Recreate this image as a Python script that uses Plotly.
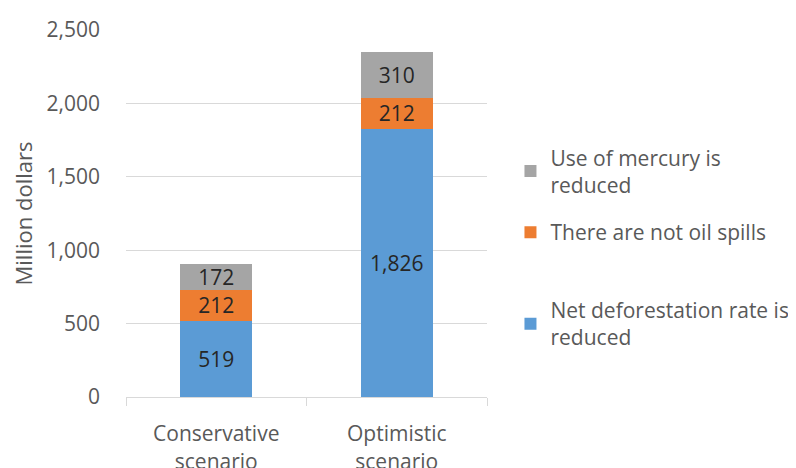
import plotly.graph_objects as go

# Dati
scenarios = ['Conservative<br>scenario', 'Optimistic<br>scenario']
deforestation = [519, 1826]
oil_spills = [212, 212]
mercury = [172, 310]

COLORS = {
    'blue': '#5B9BD5',
    'orange': '#ED7D31',
    'gray': '#A5A5A5',
    'grid': '#D9D9D9',
    'text': '#595959',
}
FONT = 'Open Sans, sans-serif'
SIZE = 21

# (nome, valori, colore, legenda, posizione y legenda)
series = [
    ('Net deforestation rate is<br>reduced', deforestation, COLORS['blue'], 'legend3', 0.292),
    ('There are not oil spills', oil_spills, COLORS['orange'], 'legend2', 0.504),
    ('Use of mercury is<br>reduced', mercury, COLORS['gray'], 'legend', 0.708),
]

fig = go.Figure()
legends = {}
for name, vals, col, leg, ly in series:
    fig.add_trace(go.Bar(
        x=scenarios, y=vals, name=name,
        marker=dict(color=col, line=dict(width=0)),
        texttemplate='%{y:,}', textposition='inside',
        insidetextanchor='middle', textangle=0, constraintext='none',
        textfont=dict(family=FONT, size=SIZE, color='#262626'),
        legend=leg, hoverinfo='skip',
    ))
    legends[leg] = dict(
        x=1.065, y=ly, xanchor='left', yanchor='top',
        font=dict(family=FONT, size=SIZE, color=COLORS['text']),
        itemwidth=30, bgcolor='rgba(0,0,0,0)',
    )

# la pagina ha 8px di margine del body: compenso nei margini
fig.update_layout(
    barmode='stack',
    bargap=0.6,
    width=796, height=468,
    margin=dict(l=118, r=317, t=22, b=79, autoexpand=False),
    plot_bgcolor='white', paper_bgcolor='white',
    font=dict(family=FONT, size=SIZE, color=COLORS['text']),
    showlegend=True,
    xaxis=dict(
        automargin=False,
        showline=True, linecolor=COLORS['grid'], linewidth=1,
        ticks='outside', tickson='boundaries', ticklen=8, tickcolor=COLORS['grid'],
        ticklabelstandoff=18,
        tickfont=dict(family=FONT, size=SIZE, color=COLORS['text']),
    ),
    yaxis=dict(
        automargin=False,
        range=[0, 2500], dtick=500, tickformat=',',
        showgrid=True, gridcolor=COLORS['grid'], gridwidth=1,
        zeroline=False, showline=False,
        ticklabelstandoff=25,
        title=dict(text='Million dollars', standoff=10,
                   font=dict(family=FONT, size=22, color=COLORS['text'])),
        tickfont=dict(family=FONT, size=SIZE, color=COLORS['text']),
    ),
    **legends,
)

fig.write_html('out.html')
